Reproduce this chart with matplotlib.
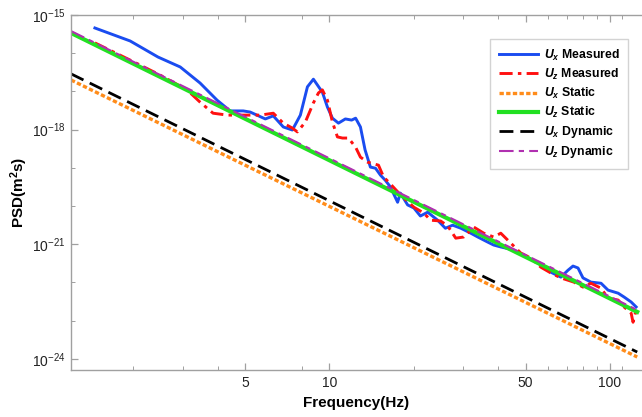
import numpy as np
import matplotlib
matplotlib.use("Agg")
import matplotlib.pyplot as plt
from matplotlib.ticker import FixedLocator, FixedFormatter, NullFormatter

plt.rcParams['font.family'] = ['Liberation Sans', 'DejaVu Sans']
plt.rcParams['mathtext.fontset'] = 'custom'
plt.rcParams['mathtext.rm'] = 'Liberation Sans'
plt.rcParams['mathtext.it'] = 'Liberation Sans:bold:italic'
plt.rcParams['mathtext.bf'] = 'Liberation Sans:bold'

# measured spectra (frequency in Hz, PSD as log10 exponent)
ux_freq = [1.46, 1.95, 2.45, 2.94, 3.46, 3.98, 4.43, 4.93, 5.22, 5.91, 6.31, 6.85,
           7.38, 7.88, 8.35, 8.77, 9.44, 9.84, 10.25, 10.77, 11.4, 12.0, 12.4, 12.9,
           13.4, 14.0, 14.6, 15.2, 15.8, 16.5, 17.5, 17.9, 19.0, 20.0, 21.1, 22.4, 24.3,
           25.9, 27.5, 29.4, 31.9, 33.8, 36.6, 38.5, 40.8, 45.4, 50.9, 56.7, 61.5,
           66.8, 70.8, 73.8, 76.9, 80.1, 85.5, 92.9, 98.4, 106.9, 112.2, 118.9, 123.9]
ux_log = [-15.34, -15.68, -16.10, -16.36, -16.78, -17.23, -17.51, -17.51, -17.54, -17.72,
          -17.64, -17.93, -18.01, -17.62, -16.88, -16.68, -17.02, -17.41, -17.70, -17.83,
          -17.72, -17.75, -17.70, -17.93, -18.53, -18.98, -19.01, -19.19, -19.32, -19.50,
          -19.90, -19.66, -19.97, -20.05, -20.26, -20.16, -20.37, -20.58, -20.50, -20.58,
          -20.71, -20.81, -20.94, -21.02, -21.07, -21.15, -21.34, -21.54, -21.73, -21.86,
          -21.68, -21.57, -21.62, -21.88, -21.99, -22.02, -22.20, -22.28, -22.38, -22.51,
          -22.64]

uz_freq = [1.46, 1.95, 2.49, 2.94, 3.11, 3.46, 3.85, 4.33, 4.93, 5.67, 6.31, 6.85,
           7.38, 7.69, 8.21, 8.77, 9.14, 9.44, 9.84, 10.25, 10.68, 11.13, 11.69, 12.4,
           12.9, 13.67, 14.96, 15.6, 16.25, 17.94, 20.0, 21.67, 22.95, 24.9, 26.4, 28.2,
           30.1, 32.7, 35.5, 38.5, 40.8, 44.3, 48.1, 52.2, 56.7, 61.5, 66.8, 74.3,
           80.1, 85.5, 92.9, 98.4, 106.9, 112.2, 118.9, 120.8, 123.9]
uz_log = [-15.73, -16.18, -16.57, -16.86, -16.96, -17.28, -17.57, -17.62, -17.62, -17.62,
          -17.57, -17.83, -17.96, -18.06, -17.80, -17.30, -17.04, -16.96, -17.23, -17.80,
          -18.19, -18.22, -18.22, -18.46, -18.72, -18.85, -18.93, -19.24, -19.37, -19.71,
          -20.03, -20.18, -20.37, -20.39, -20.52, -20.84, -20.81, -20.55, -20.71, -20.81,
          -20.71, -20.97, -21.23, -21.36, -21.60, -21.75, -21.88, -21.99, -22.12, -22.02,
          -22.15, -22.41, -22.46, -22.64, -22.80, -23.04, -22.72]

# model lines (straight in log-log)
model_freq = [1.2, 125.0]
ux_static_log = [-16.70, -23.95]
uz_static_log = [-15.47, -22.77]
ux_dynamic_log = [-16.54, -23.82]
uz_dynamic_log = [-15.42, -22.72]

x_major = [5, 10, 50, 100]
x_minor = [2, 3, 4, 8, 20, 30, 40, 60, 70, 80, 90, 110]
y_major_exp = [-15, -18, -21, -24]
y_minor_exp = [-16, -17, -19, -20, -22, -23]

W, H = 642, 417
fig = plt.figure(figsize=(W / 100, H / 100), dpi=100)
ax = fig.add_axes([71 / W, 1 - 370 / H, (W - 71) / W, (370 - 15) / H])

p = lambda v: 10.0 ** np.array(v)

ax.plot(ux_freq, p(ux_log), color='#1a4cf0', lw=2.1, label=r'$U_x$ Measured')
ax.plot(uz_freq, p(uz_log), color='#ff1010', lw=2.1,
        linestyle=(0, (4.5, 1.8, 1.2, 1.8)), label=r'$U_z$ Measured')
ax.plot(model_freq, p(ux_static_log), color='#ff8c1a', lw=2.4,
        linestyle=(0, (1.3, 0.7)), label=r'$U_x$ Static')
ax.plot(model_freq, p(uz_static_log), color='#22e022', lw=3.0, label=r'$U_z$ Static')
ax.plot(model_freq, p(ux_dynamic_log), color='#000000', lw=2.0,
        linestyle=(0, (5, 2.5)), label=r'$U_x$ Dynamic')
ax.plot(model_freq, p(uz_dynamic_log), color='#b030b0', lw=1.5,
        linestyle=(0, (7, 2.5, 2.5, 2.5)), label=r'$U_z$ Dynamic')

ax.set_xscale('log')
ax.set_yscale('log')
ax.set_xlim(1.2, 130)
ax.set_ylim(10 ** -24.29, 1e-15)

ax.xaxis.set_major_locator(FixedLocator(x_major))
ax.xaxis.set_major_formatter(FixedFormatter([str(v) for v in x_major]))
ax.xaxis.set_minor_locator(FixedLocator(x_minor))
ax.xaxis.set_minor_formatter(NullFormatter())
ax.yaxis.set_major_locator(FixedLocator([10.0 ** e for e in y_major_exp]))
ax.yaxis.set_major_formatter(FixedFormatter([r'$10^{%d}$' % e for e in y_major_exp]))
ax.yaxis.set_minor_locator(FixedLocator([10.0 ** e for e in y_minor_exp]))
ax.yaxis.set_minor_formatter(NullFormatter())

frame = '#a0a0a0'
for side in ['left', 'bottom', 'top']:
    ax.spines[side].set_color(frame)
    ax.spines[side].set_linewidth(1.0)
ax.spines['right'].set_visible(False)
ax.tick_params(which='both', direction='in', top=True, right=False, color=frame,
               labelcolor='#222222', labelsize=10, pad=4)
ax.tick_params(which='major', length=5, width=0.9)
ax.tick_params(which='minor', length=3, width=0.7)

ax.set_xlabel('Frequency(Hz)', fontsize=11, fontweight='bold', labelpad=5)
ax.set_ylabel(r'PSD(m$^{\mathbf{2}}$s)', fontsize=11, fontweight='bold', labelpad=1)

leg = ax.legend(loc='upper right', bbox_to_anchor=(628 / W, 1 - 39 / H),
                bbox_transform=fig.transFigure, fancybox=False, frameon=True,
                edgecolor='#c8c8c8', fontsize=8.8, handlelength=3.2,
                labelspacing=0.33, borderpad=0.7, handletextpad=0.5,
                borderaxespad=0)
leg.get_frame().set_linewidth(1.0)
for t in leg.get_texts():
    t.set_fontweight('bold')

fig.savefig('out.png', dpi=100)
